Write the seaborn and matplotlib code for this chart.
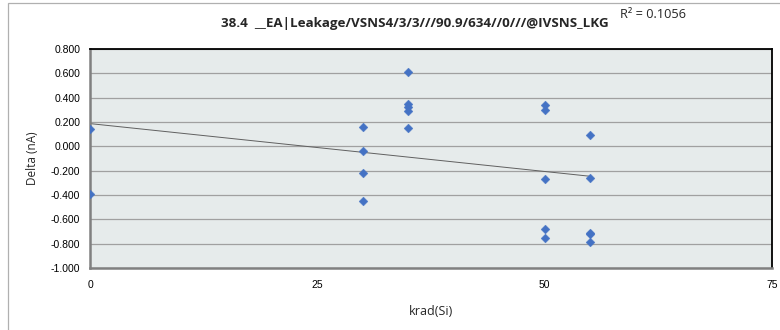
import numpy as np
import pandas as pd
import matplotlib
matplotlib.use("Agg")
import matplotlib.pyplot as plt
import seaborn as sns
from matplotlib.patches import Rectangle

# Data
krad = [0, 0,
        30, 30, 30, 30,
        35, 35, 35, 35, 35,
        50, 50, 50, 50, 50,
        55, 55, 55, 55, 55]
delta = [0.14, -0.39,
         0.16, -0.04, -0.22, -0.45,
         0.61, 0.35, 0.32, 0.29, 0.15,
         0.34, 0.30, -0.27, -0.68, -0.75,
         0.09, -0.26, -0.71, -0.72, -0.79]
x_ticks = [0, 25, 50, 75]
y_ticks = [-1.0, -0.8, -0.6, -0.4, -0.2, 0.0, 0.2, 0.4, 0.6, 0.8]
title = "38.4  __EA|Leakage/VSNS4/3/3///90.9/634//0///@IVSNS_LKG"
r2_text = "R² = 0.1056"

df = pd.DataFrame({"krad": krad, "delta": delta})

sns.set_theme(style="white")
plt.rcParams['font.family'] = ['Liberation Sans', 'DejaVu Sans']

W, H = 780, 330
fig = plt.figure(figsize=(W / 100, H / 100), dpi=100)
ax = fig.add_axes([90 / W, 1 - 268 / H, (772 - 90) / W, (268 - 49) / H])
ax.set_facecolor("#E6EBEB")

# outer chart border (left and top visible)
fig.patches.append(Rectangle((8 / W, -0.1), 1.2, (H - 3) / H + 0.1,
                             transform=fig.transFigure, fill=False,
                             edgecolor="#B0B0B0", linewidth=0.9, zorder=0))

for yv in y_ticks:
    ax.axhline(yv, color="#A0A0A0", linewidth=0.9, zorder=1)

sns.scatterplot(data=df, x="krad", y="delta", marker="D", s=20,
                color="#4472C4", edgecolor="#4472C4", linewidth=0.3,
                ax=ax, zorder=3, legend=False)

# linear trend line
slope, intercept = np.polyfit(df["krad"], df["delta"], 1)
xs = np.array([min(krad), max(krad)])
ax.plot(xs, slope * xs + intercept, color="#606060", linewidth=0.7, zorder=2)

ax.set_xlim(0, 75)
ax.set_ylim(-1.0, 0.8)
ax.set_xticks(x_ticks)
ax.set_xticklabels([str(t) for t in x_ticks])
ax.set_yticks(y_ticks)
ax.set_yticklabels([f"{t:.3f}" for t in y_ticks])
ax.tick_params(axis="both", labelsize=7.5, colors="#000000", length=3,
               width=0.8, direction="out", pad=4)
ax.tick_params(axis="x", pad=6, color="#A0A0A0")
ax.tick_params(axis="y", color="#A0A0A0")

for side in ["top", "right"]:
    ax.spines[side].set_color("#000000")
    ax.spines[side].set_linewidth(1.3)
for side in ["left", "bottom"]:
    ax.spines[side].set_color("#808080")
    ax.spines[side].set_linewidth(1.8)

ax.set_xlabel("krad(Si)", fontsize=9, family=["Open Sans", "DejaVu Sans"])
ax.xaxis.set_label_coords(0.5, -0.17)
ax.set_ylabel("Delta (nA)", fontsize=8.5, family=["Open Sans", "DejaVu Sans"])
ax.yaxis.set_label_coords(-0.075, 0.5)

fig.text(415 / W, 1 - 23 / H, title, ha="center", va="center",
         fontsize=9.6, fontweight="bold", family=["Open Sans", "DejaVu Sans"])
fig.text(620 / W, 1 - 15 / H, r2_text, ha="left", va="center",
         fontsize=9.2, family=["Open Sans", "DejaVu Sans"])

fig.savefig("out.png", dpi=100, facecolor="white")
